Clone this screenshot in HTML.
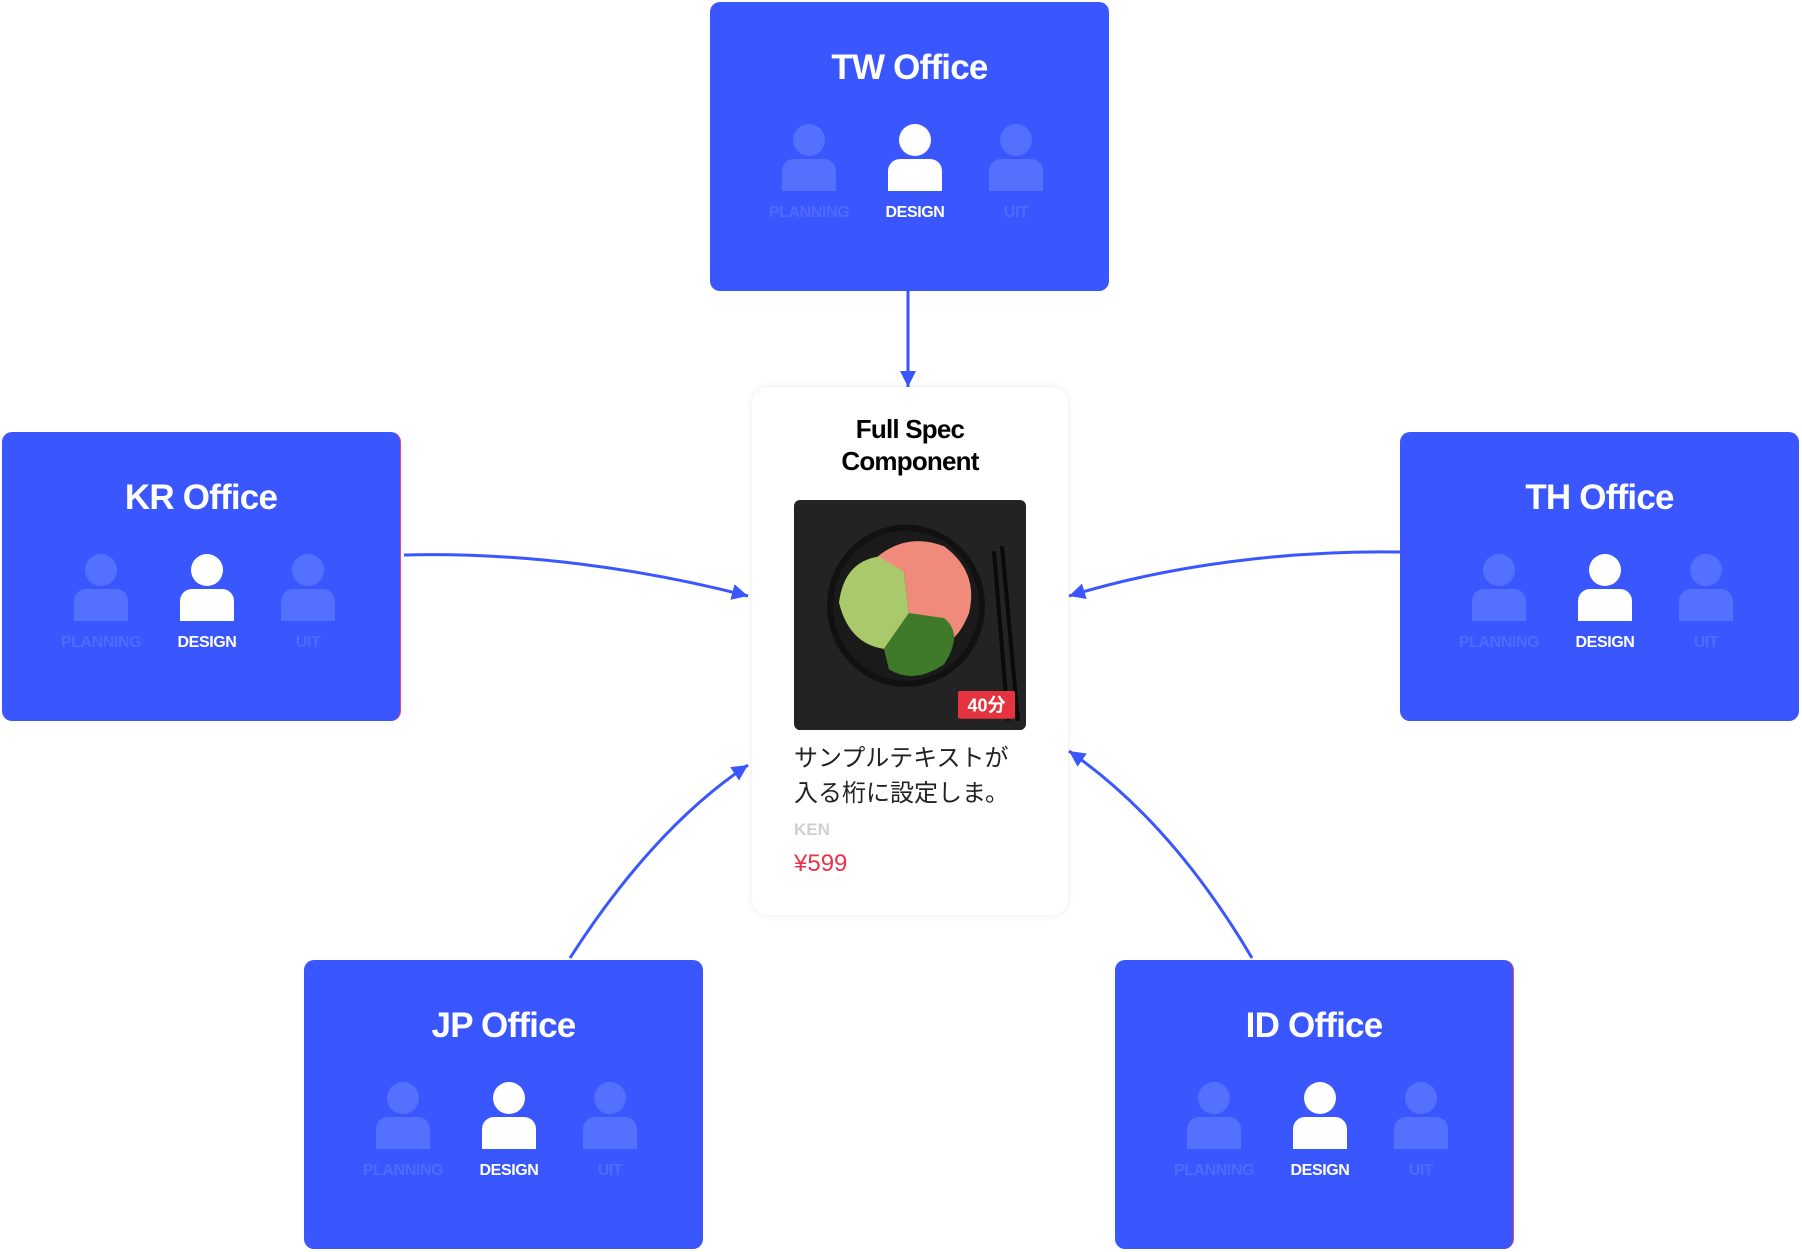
<!DOCTYPE html>
<html><head><meta charset="utf-8"><style>
*{margin:0;padding:0;box-sizing:border-box}
body{width:1802px;height:1252px;background:#fff;position:relative;overflow:hidden;font-family:"Liberation Sans","Noto Sans CJK JP",sans-serif}
.box{position:absolute;width:399px;height:289px;background:#3a57ff;border-radius:10px}
.box .t{position:absolute;left:0;right:0;top:45px;text-align:center;color:#fff;font-weight:bold;font-size:35px;line-height:42px;letter-spacing:-0.8px}
.ic{position:absolute;top:122px;width:110px;margin-left:-55px}
.ic .h{position:absolute;left:39px;top:0;width:32px;height:32px;border-radius:50%;background:#5470ff}
.ic .b{position:absolute;left:28px;top:35px;width:54px;height:32px;border-radius:12px 12px 0 0;background:#5470ff}
.ic .l{position:absolute;left:0;right:0;top:80px;text-align:center;font-size:16px;font-weight:bold;color:#4e6aff;letter-spacing:-0.4px}
.ic.on .h,.ic.on .b{background:#fff}
.ic.on .l{color:#fff}
.card{position:absolute;left:752px;top:387px;width:316px;height:528px;background:#fff;border-radius:16px;box-shadow:0 0 8px rgba(0,0,0,0.08)}
</style></head><body>

<svg width="1802" height="1252" style="position:absolute;left:0;top:0">
<defs>
<marker id="m" viewBox="0 0 10 10" refX="10" refY="5" markerWidth="18" markerHeight="16" orient="auto" markerUnits="userSpaceOnUse"><path d="M0,0 L10,5 L0,10 z" fill="#3a57ff"/></marker></defs>
<g stroke="#3a57ff" stroke-width="3" fill="none">
<path d="M908 291 L908 387" marker-end="url(#m)"/>
<path d="M404 555 C520 552 640 568 748 596" marker-end="url(#m)"/>
<path d="M1400 552 C1290 550 1170 565 1069 596" marker-end="url(#m)"/>
<path d="M570 958 C620 880 680 810 748 765" marker-end="url(#m)"/>
<path d="M1252 958 C1200 870 1140 800 1069 751" marker-end="url(#m)"/>
</g></svg>

<div class="box" style="left:710px;top:2px"><div class="t">TW Office</div>
<div class="ic" style="left:99px"><div class="h"></div><div class="b"></div><div class="l">PLANNING</div></div>
<div class="ic on" style="left:205px"><div class="h"></div><div class="b"></div><div class="l">DESIGN</div></div>
<div class="ic" style="left:306px"><div class="h"></div><div class="b"></div><div class="l">UIT</div></div></div>

<div class="box" style="left:2px;top:432px;border-right:1px solid #ff4060"><div class="t">KR Office</div>
<div class="ic" style="left:99px"><div class="h"></div><div class="b"></div><div class="l">PLANNING</div></div>
<div class="ic on" style="left:205px"><div class="h"></div><div class="b"></div><div class="l">DESIGN</div></div>
<div class="ic" style="left:306px"><div class="h"></div><div class="b"></div><div class="l">UIT</div></div></div>

<div class="box" style="left:1400px;top:432px"><div class="t">TH Office</div>
<div class="ic" style="left:99px"><div class="h"></div><div class="b"></div><div class="l">PLANNING</div></div>
<div class="ic on" style="left:205px"><div class="h"></div><div class="b"></div><div class="l">DESIGN</div></div>
<div class="ic" style="left:306px"><div class="h"></div><div class="b"></div><div class="l">UIT</div></div></div>

<div class="box" style="left:304px;top:960px"><div class="t">JP Office</div>
<div class="ic" style="left:99px"><div class="h"></div><div class="b"></div><div class="l">PLANNING</div></div>
<div class="ic on" style="left:205px"><div class="h"></div><div class="b"></div><div class="l">DESIGN</div></div>
<div class="ic" style="left:306px"><div class="h"></div><div class="b"></div><div class="l">UIT</div></div></div>

<div class="box" style="left:1115px;top:960px;border-right:1px solid #ff4060"><div class="t">ID Office</div>
<div class="ic" style="left:99px"><div class="h"></div><div class="b"></div><div class="l">PLANNING</div></div>
<div class="ic on" style="left:205px"><div class="h"></div><div class="b"></div><div class="l">DESIGN</div></div>
<div class="ic" style="left:306px"><div class="h"></div><div class="b"></div><div class="l">UIT</div></div></div>

<div class="card">
<div style="position:absolute;left:0;right:0;top:26px;text-align:center;font-weight:bold;font-size:26px;line-height:32px;color:#000;letter-spacing:-0.8px">Full Spec<br>Component</div>
<svg style="position:absolute;left:42px;top:113px" width="232" height="230" viewBox="0 0 232 224" preserveAspectRatio="none">
<rect width="232" height="224" rx="6" fill="#232323"/>
<circle cx="112" cy="103" r="79" fill="#111"/>
<circle cx="112" cy="103" r="73" fill="#1a1a1a"/>
<path d="M78 60 Q110 30 150 45 Q185 70 175 110 Q165 135 150 140 L115 110 L110 70 Z" fill="#f08a7a"/>
<path d="M45 100 Q50 60 85 55 L110 70 L115 110 L90 145 Q55 140 45 100 Z" fill="#a9c96a"/>
<path d="M90 145 L115 110 L150 115 Q170 130 150 160 Q120 180 95 165 Z" fill="#3f7a2a"/>
<line x1="200" y1="50" x2="214" y2="215" stroke="#0a0a0a" stroke-width="4"/>
<line x1="208" y1="45" x2="224" y2="215" stroke="#0a0a0a" stroke-width="4"/>
<rect x="164" y="186" width="57" height="27" rx="2" fill="#e63340"/>
<text x="192.5" y="206" text-anchor="middle" font-family="Liberation Sans,Noto Sans CJK JP,sans-serif" font-weight="bold" font-size="18" fill="#fff">40分</text>
</svg>
<div style="position:absolute;left:42px;top:354px;font-size:24px;line-height:35px;color:#222;white-space:nowrap">サンプルテキストが<br>入る桁に設定しま。</div>
<div style="position:absolute;left:42px;top:433px;font-size:17px;font-weight:bold;color:#d0d0d0">KEN</div>
<div style="position:absolute;left:42px;top:463px;font-size:24px;color:#e8334a">¥599</div>
</div>
</body></html>
